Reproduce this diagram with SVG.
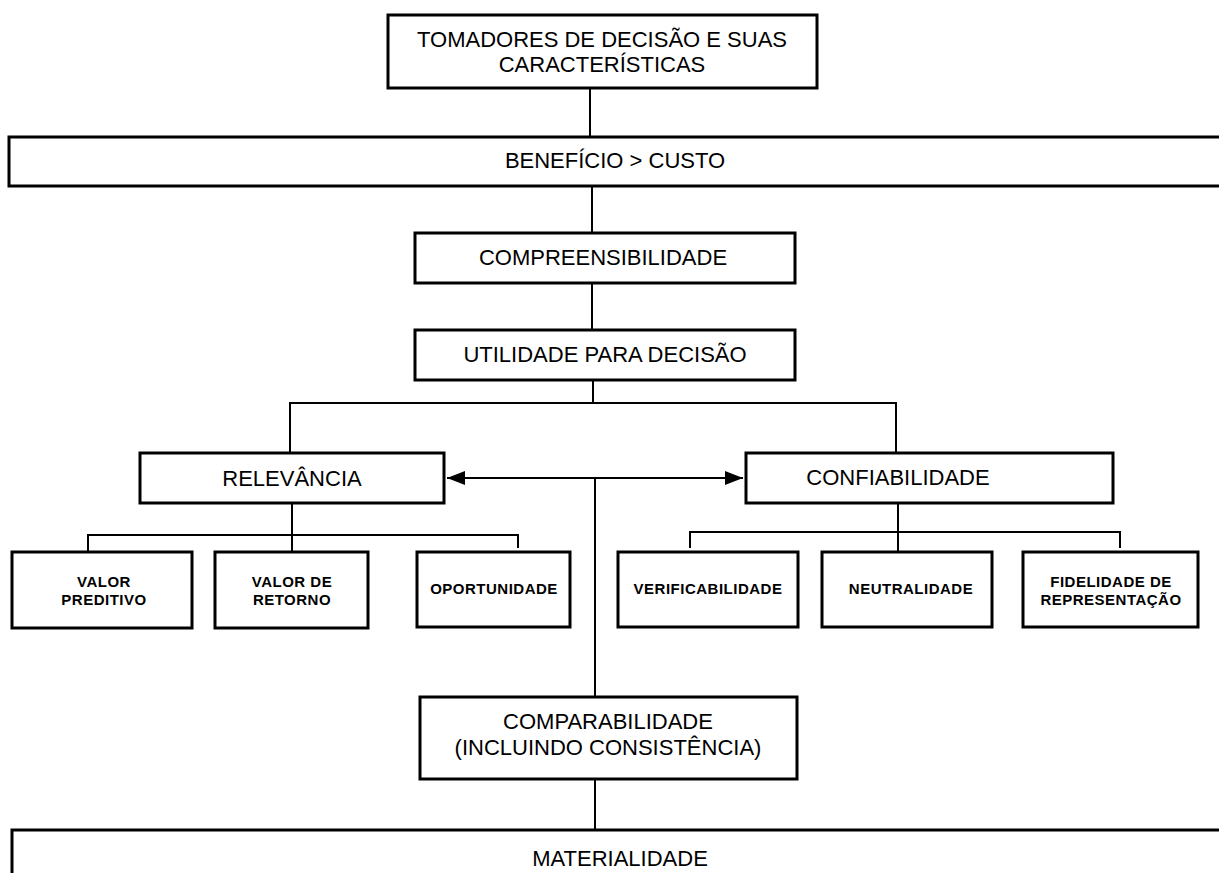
<svg xmlns="http://www.w3.org/2000/svg" width="1219" height="873" viewBox="0 0 1219 873">
<style>
.box{fill:#fff;stroke:#000;stroke-width:3}
.conn{fill:none;stroke:#000;stroke-width:2}
.t{font-family:"Liberation Sans",Arial,sans-serif;font-size:22px;fill:#000;text-anchor:middle}
.s{font-family:"Liberation Sans",Arial,sans-serif;font-size:15px;font-weight:bold;letter-spacing:0.5px;fill:#000;text-anchor:middle}
</style>
<defs>
<marker id="arr" viewBox="0 0 18 14" refX="18" refY="7" markerWidth="18" markerHeight="14" markerUnits="userSpaceOnUse" orient="auto-start-reverse">
<path d="M0,0 L18,7 L0,14 Z" fill="#000"/>
</marker>
</defs>
<rect width="1219" height="873" fill="#fff"/>
<g id="connectors">
<line class="conn" x1="590" y1="88" x2="590" y2="137"/>
<line class="conn" x1="592" y1="186" x2="592" y2="233"/>
<line class="conn" x1="592" y1="283" x2="592" y2="330"/>
<line class="conn" x1="593" y1="380" x2="593" y2="403"/>
<polyline class="conn" points="290,453 290,403 896,403 896,453"/>
<line class="conn" x1="447" y1="478" x2="743" y2="478" marker-start="url(#arr)" marker-end="url(#arr)"/>
<line class="conn" x1="595" y1="478" x2="595" y2="697"/>
<line class="conn" x1="595" y1="779" x2="595" y2="830"/>
<line class="conn" x1="292" y1="503" x2="292" y2="552"/>
<polyline class="conn" points="88,552 88,535 518,535 518,548"/>
<line class="conn" x1="898" y1="503" x2="898" y2="552"/>
<polyline class="conn" points="690,548 690,532 1120,532 1120,548"/>
</g>
<g id="tomadores">
<rect class="box" x="388" y="15" width="429" height="73"/>
<text class="t" x="602" y="47">TOMADORES DE DECISÃO E SUAS</text>
<text class="t" x="602" y="72">CARACTERÍSTICAS</text>
</g>
<g id="beneficio">
<rect class="box" x="9" y="137" width="1220" height="49"/>
<text class="t" x="615" y="168">BENEFÍCIO &gt; CUSTO</text>
</g>
<g id="compreensibilidade">
<rect class="box" x="415" y="233" width="380" height="50"/>
<text class="t" x="603" y="265">COMPREENSIBILIDADE</text>
</g>
<g id="utilidade">
<rect class="box" x="415" y="330" width="380" height="50"/>
<text class="t" x="605" y="362">UTILIDADE PARA DECISÃO</text>
</g>
<g id="relevancia">
<rect class="box" x="140" y="453" width="304" height="50"/>
<text class="t" x="292" y="486">RELEVÂNCIA</text>
</g>
<g id="confiabilidade">
<rect class="box" x="746" y="453" width="367" height="50"/>
<text class="t" x="898" y="485">CONFIABILIDADE</text>
</g>
<g id="valor-preditivo">
<rect class="box" x="12" y="552" width="180" height="76"/>
<text class="s" x="104" y="587">VALOR</text>
<text class="s" x="104" y="605">PREDITIVO</text>
</g>
<g id="valor-retorno">
<rect class="box" x="215" y="552" width="153" height="76"/>
<text class="s" x="292" y="587">VALOR DE</text>
<text class="s" x="292" y="605">RETORNO</text>
</g>
<g id="oportunidade">
<rect class="box" x="417" y="552" width="153" height="75"/>
<text class="s" x="494" y="594">OPORTUNIDADE</text>
</g>
<g id="verificabilidade">
<rect class="box" x="618" y="552" width="180" height="75"/>
<text class="s" x="708" y="594">VERIFICABILIDADE</text>
</g>
<g id="neutralidade">
<rect class="box" x="822" y="552" width="170" height="75"/>
<text class="s" x="911" y="594">NEUTRALIDADE</text>
</g>
<g id="fidelidade">
<rect class="box" x="1023" y="552" width="175" height="75"/>
<text class="s" x="1111" y="587">FIDELIDADE DE</text>
<text class="s" x="1111" y="605">REPRESENTAÇÃO</text>
</g>
<g id="comparabilidade">
<rect class="box" x="420" y="697" width="377" height="82"/>
<text class="t" x="608" y="729">COMPARABILIDADE</text>
<text class="t" x="608" y="755">(INCLUINDO CONSISTÊNCIA)</text>
</g>
<g id="materialidade">
<rect class="box" x="12" y="830" width="1220" height="60"/>
<text class="t" x="620" y="866">MATERIALIDADE</text>
</g>
</svg>
